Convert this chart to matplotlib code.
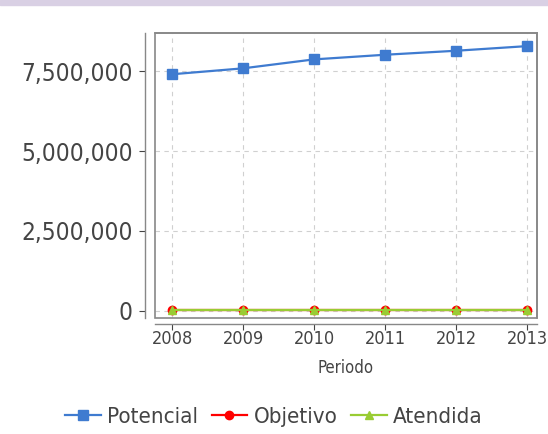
import matplotlib
matplotlib.use("Agg")
import matplotlib.pyplot as plt
from matplotlib.patches import Rectangle
from matplotlib.ticker import FuncFormatter

years = [2008, 2009, 2010, 2011, 2012, 2013]
potencial = [7400000, 7585000, 7865000, 8010000, 8135000, 8280000]
objetivo = [30000, 30000, 30000, 30000, 30000, 30000]
atendida = [15000, 15000, 15000, 15000, 15000, 15000]
yticks = [0, 2500000, 5000000, 7500000]

plt.rcParams["font.stretch"] = "condensed"

fig = plt.figure(figsize=(5.48, 4.34), dpi=100)
fig.patches.append(Rectangle((0, 1 - 5/434), 1, 5/434, transform=fig.transFigure,
                             color="#d9d0e4", zorder=0))
ax = fig.add_axes([155/548, 1 - 318/434, 382/548, 285/434])

ax.plot(years, potencial, color="#3f7bd0", marker="s", markersize=7, lw=1.6,
        label="Potencial", zorder=3)
ax.plot(years, objetivo, color="#ff0000", marker="o", markersize=6, lw=1.6,
        label="Objetivo", zorder=3)
ax.plot(years, atendida, color="#99cc33", marker="^", markersize=6, lw=1.6,
        label="Atendida", zorder=4)

ax.set_xlim(2007.76, 2013.14)
ax.set_ylim(-220000, 8690000)
ax.set_xticks(years)
ax.set_yticks(yticks)
ax.yaxis.set_major_formatter(FuncFormatter(lambda v, p: f"{int(v):,}"))
ax.grid(True, color="#d0d0d0", linestyle=(0, (4, 4)), lw=0.8)

for s in ["top", "right"]:
    ax.spines[s].set_color("#888888")
    ax.spines[s].set_linewidth(1.2)
ax.spines["left"].set_position(("outward", 7))
ax.spines["bottom"].set_position(("outward", 4))
for s in ["left", "bottom"]:
    ax.spines[s].set_color("#888888")
    ax.spines[s].set_linewidth(1.0)
ax.add_patch(Rectangle((0, 0), 1, 1, transform=ax.transAxes, fill=False,
                       edgecolor="#888888", lw=1.2, zorder=5, clip_on=False))

ax.tick_params(axis="y", labelsize=17.5, colors="#444444", length=4, pad=5)
ax.tick_params(axis="x", labelsize=13, colors="#444444", length=4, pad=0.5)
for lab in ax.get_xticklabels() + ax.get_yticklabels():
    lab.set_fontstretch("condensed")
ax.set_xlabel("Periodo", fontsize=12, color="#444444", labelpad=8, fontstretch="condensed")

fig.legend(loc="center", bbox_to_anchor=(0.5, 1 - 417/434), ncol=3, frameon=False,
           handlelength=1.6, handletextpad=0.3, columnspacing=0.6,
           labelcolor="#444444", prop={"stretch": "condensed", "size": 16})

fig.savefig("out.png", dpi=100)
